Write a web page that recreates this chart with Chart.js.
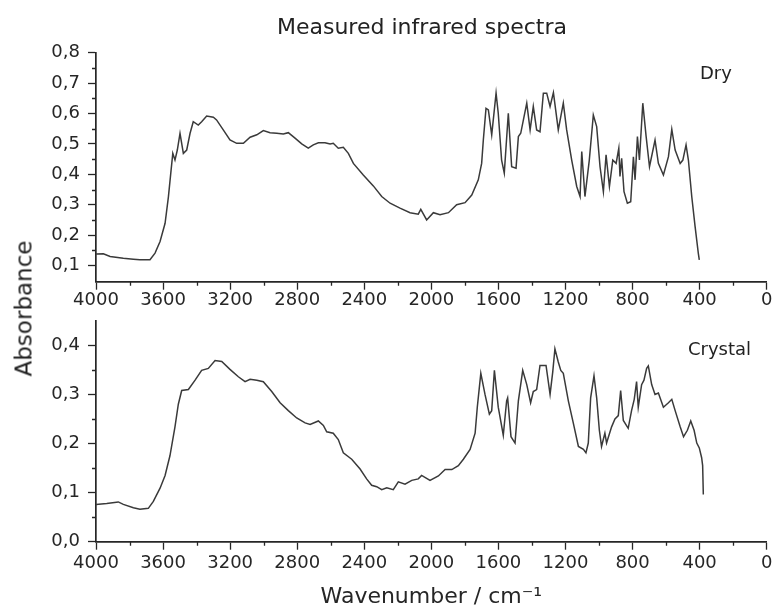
<!DOCTYPE html>
<html>
<head>
<meta charset="utf-8">
<script src="https://cdn.jsdelivr.net/npm/chart.js@4/dist/chart.umd.min.js"></script>
<style>
  body { margin: 0; background: #fff; }
  #wrap { position: relative; width: 776px; height: 610px; overflow: hidden; font-family: 'DejaVu Sans', sans-serif; color: #222; }
  #wrap canvas { position: absolute; left: 0; }
  .txt { position: absolute; white-space: nowrap; line-height: 1; }
</style>
</head>
<body>
<div id="wrap">
  <canvas id="graficoDry" width="776" height="320" style="top:0"></canvas>
  <canvas id="graficoCrystal" width="776" height="308" style="top:302px"></canvas>
  <div class="txt" style="left:422px;top:16px;font-size:22px;transform:translateX(-50%)">Measured infrared spectra</div>
  <div class="txt" style="left:-76px;top:297px;width:200px;text-align:center;font-size:23px;transform:rotate(-90deg)">Absorbance</div>
  <div class="txt" style="left:700px;top:64px;font-size:18px">Dry</div>
  <div class="txt" style="left:688px;top:340px;font-size:18px">Crystal</div>
</div>
<script>
// numeros
numOndaDry = [4000, 3956, 3916, 3837, 3777, 3738, 3678, 3648, 3618, 3588, 3568, 3554, 3542, 3529, 3515, 3499, 3479, 3459, 3439, 3420,
	3390, 3370, 3340, 3300, 3281, 3241, 3201, 3161, 3121, 3081, 3041, 3002, 2962, 2922, 2883, 2853, 2813, 2773, 2734, 2704,
	2674, 2634, 2604, 2585, 2555, 2525, 2495, 2465, 2406, 2346, 2296, 2246, 2187, 2127, 2078, 2063, 2028, 1988, 1948, 1898,
	1849, 1799, 1759, 1720, 1700, 1690, 1674, 1660, 1640, 1614, 1601, 1581, 1565, 1541, 1521, 1495, 1481, 1467, 1451, 1431,
	1411, 1392, 1372, 1352, 1332, 1312, 1292, 1272, 1243, 1213, 1193, 1163, 1133, 1113, 1103, 1084, 1058, 1034, 1014, 994,
	974, 958, 938, 918, 898, 882, 875, 865, 851, 831, 811, 795, 785, 771, 759, 739, 719, 699, 666, 646,
	616, 586, 566, 546, 516, 500, 481, 467, 447, 427, 408, 402]
absDry = [0.138, 0.139, 0.130, 0.124, 0.121, 0.119, 0.119, 0.141, 0.179, 0.239, 0.327, 0.404, 0.469, 0.447, 0.480, 0.535, 0.469, 0.480, 0.535, 0.573,
	0.562, 0.573, 0.592, 0.588, 0.579, 0.546, 0.513, 0.502, 0.502, 0.522, 0.530, 0.544, 0.537, 0.535, 0.533, 0.537, 0.519, 0.500, 0.486, 0.497,
	0.504, 0.504, 0.500, 0.502, 0.486, 0.489, 0.469, 0.436, 0.398, 0.362, 0.327, 0.305, 0.289, 0.274, 0.269, 0.285, 0.250, 0.274, 0.267, 0.274,
	0.300, 0.307, 0.332, 0.382, 0.436, 0.513, 0.617, 0.612, 0.530, 0.667, 0.601, 0.447, 0.404, 0.601, 0.425, 0.420, 0.524, 0.535, 0.579, 0.634,
	0.546, 0.623, 0.546, 0.540, 0.667, 0.667, 0.623, 0.669, 0.546, 0.634, 0.546, 0.447, 0.360, 0.327, 0.475, 0.327, 0.447, 0.595, 0.557, 0.425,
	0.343, 0.464, 0.360, 0.447, 0.436, 0.486, 0.393, 0.453, 0.343, 0.305, 0.310, 0.458, 0.382, 0.524, 0.447, 0.634, 0.524, 0.425, 0.513, 0.436,
	0.398, 0.458, 0.548, 0.480, 0.436, 0.447, 0.497, 0.447, 0.327, 0.228, 0.141, 0.119]

numOndaCrystal = [4000, 3936, 3867, 3837, 3777, 3738, 3688, 3658, 3618, 3588, 3559, 3529, 3509, 3489, 3449, 3409, 3370, 3330, 3290, 3250,
	3201, 3151, 3111, 3081, 3041, 3002, 2952, 2902, 2853, 2803, 2753, 2723, 2674, 2644, 2624, 2585, 2555, 2525, 2475, 2425,
	2386, 2356, 2326, 2296, 2266, 2227, 2197, 2157, 2117, 2078, 2058, 2008, 1958, 1918, 1878, 1839, 1809, 1769, 1739, 1726,
	1705, 1680, 1654, 1640, 1624, 1601, 1571, 1551, 1545, 1525, 1501, 1481, 1455, 1431, 1408, 1392, 1372, 1352, 1316, 1292,
	1276, 1263, 1243, 1228, 1213, 1183, 1153, 1123, 1093, 1078, 1064, 1050, 1030, 1014, 998, 985, 965, 955, 925, 905,
	885, 871, 855, 826, 806, 790, 776, 766, 746, 732, 716, 706, 686, 666, 646, 616, 586, 566, 546, 516,
	496, 473, 453, 433, 417, 402, 388, 382, 378]
absCrystal = [0.076, 0.078, 0.081, 0.076, 0.069, 0.066, 0.068, 0.082, 0.109, 0.135, 0.175, 0.234, 0.280, 0.308, 0.310, 0.329, 0.349, 0.353, 0.369, 0.367,
	0.351, 0.336, 0.326, 0.331, 0.329, 0.326, 0.306, 0.283, 0.267, 0.252, 0.242, 0.239, 0.246, 0.237, 0.224, 0.221, 0.208, 0.181, 0.168, 0.148,
	0.128, 0.115, 0.112, 0.106, 0.110, 0.106, 0.122, 0.117, 0.125, 0.128, 0.135, 0.125, 0.134, 0.147, 0.147, 0.155, 0.168, 0.188, 0.221, 0.274,
	0.343, 0.300, 0.260, 0.267, 0.349, 0.274, 0.217, 0.287, 0.293, 0.214, 0.201, 0.287, 0.349, 0.320, 0.283, 0.306, 0.310, 0.359, 0.359, 0.300,
	0.346, 0.393, 0.366, 0.349, 0.343, 0.287, 0.241, 0.194, 0.188, 0.181, 0.201, 0.293, 0.338, 0.293, 0.227, 0.194, 0.221, 0.201, 0.234, 0.250,
	0.257, 0.308, 0.247, 0.231, 0.267, 0.290, 0.326, 0.274, 0.320, 0.329, 0.353, 0.358, 0.320, 0.300, 0.303, 0.274, 0.283, 0.290, 0.267, 0.234,
	0.214, 0.227, 0.246, 0.227, 0.201, 0.191, 0.171, 0.155, 0.096]

ticksX = [4000, 3600, 3200, 2800, 2400, 2000, 1600, 1200, 800, 400, 0]
ticksYDry = [0.1, 0.2, 0.3, 0.4, 0.5, 0.6, 0.7, 0.8]
ticksYCrystal = [0.0, 0.1, 0.2, 0.3, 0.4]

corLinha = '#3a3a3a'
corEixo = '#262626'

Chart.defaults.font.family = "'DejaVu Sans', sans-serif"
Chart.defaults.color = corEixo

// tracos menores entre os tracos principais
var tracosMenores = {
	id: 'tracosMenores',
	afterDraw: function (chart) {
		var ctx = chart.ctx
		var sx = chart.scales.x, sy = chart.scales.y
		var tx = sx.ticks.map(t => t.value).sort((a, b) => a - b)
		var ty = sy.ticks.map(t => t.value).sort((a, b) => a - b)
		ctx.save()
		ctx.strokeStyle = corEixo
		ctx.lineWidth = 1.3
		ctx.beginPath()
		for (var i = 1; i < tx.length; i++) {
			var px = Math.round(sx.getPixelForValue((tx[i - 1] + tx[i]) / 2)) + 0.5
			ctx.moveTo(px, sx.top)
			ctx.lineTo(px, sx.top + 4)
		}
		for (var j = 1; j < ty.length; j++) {
			var py = Math.round(sy.getPixelForValue((ty[j - 1] + ty[j]) / 2)) + 0.5
			ctx.moveTo(sy.right, py)
			ctx.lineTo(sy.right - 4, py)
		}
		ctx.stroke()
		ctx.restore()
	}
}

function geraGrafico(canvasId, numOnda, absorbancia, ticksY, yMin, yMax, alturaX, padTopo, padLabelX, tituloX) {
	var pontos = numOnda.map((w, i) => ({ x: w, y: absorbancia[i] }))
	var config = {
		type: 'line',
		data: {
			datasets: [{
				data: pontos,
				borderColor: corLinha,
				borderWidth: 1.5,
				pointRadius: 0,
				tension: 0,
				fill: false
			}]
		},
		options: {
			responsive: false,
			animation: false,
			layout: { padding: { top: padTopo, right: 9.3, left: 0, bottom: 0 } },
			plugins: {
				legend: { display: false },
				tooltip: { enabled: false },
				title: { display: false }
			},
			scales: {
				x: {
					type: 'linear',
					reverse: true,
					min: 0,
					max: 4000,
					afterBuildTicks: s => { s.ticks = ticksX.map(v => ({ value: v })) },
					afterFit: s => { s.height = alturaX },
					grid: { drawOnChartArea: false, tickLength: 8, tickColor: corEixo, tickWidth: 1.3 },
					border: { color: corEixo, width: 1.7 },
					ticks: {
						autoSkip: false,
						maxRotation: 0,
						padding: padLabelX,
						font: { size: 18 },
						color: corEixo,
						callback: v => String(v)
					},
					title: {
						display: !!tituloX,
						text: tituloX || '',
						font: { size: 22 },
						color: corEixo,
						padding: 0
					}
				},
				y: {
					min: yMin,
					max: yMax,
					afterBuildTicks: s => { s.ticks = ticksY.map(v => ({ value: v })) },
					afterFit: s => { s.width = 96 },
					grid: { drawOnChartArea: false, tickLength: 8, tickColor: corEixo, tickWidth: 1.3 },
					border: { color: corEixo, width: 1.7 },
					ticks: {
						padding: 8,
						font: { size: 18 },
						color: corEixo,
						callback: v => v.toFixed(1).replace('.', ',')
					}
				}
			}
		},
		plugins: [tracosMenores]
	}
	var ctx = document.getElementById(canvasId).getContext('2d')
	return new Chart(ctx, config)
}

window.graficoDry = geraGrafico('graficoDry', numOndaDry, absDry, ticksYDry, 0.047, 0.8, 320 - 281.7, 52.7, 0, null)
window.graficoCrystal = geraGrafico('graficoCrystal', numOndaCrystal, absCrystal, ticksYCrystal, 0, 0.45, 308 - 239.7, 12, 3, 'Wavenumber / cm⁻¹')
</script>
</body>
</html>
